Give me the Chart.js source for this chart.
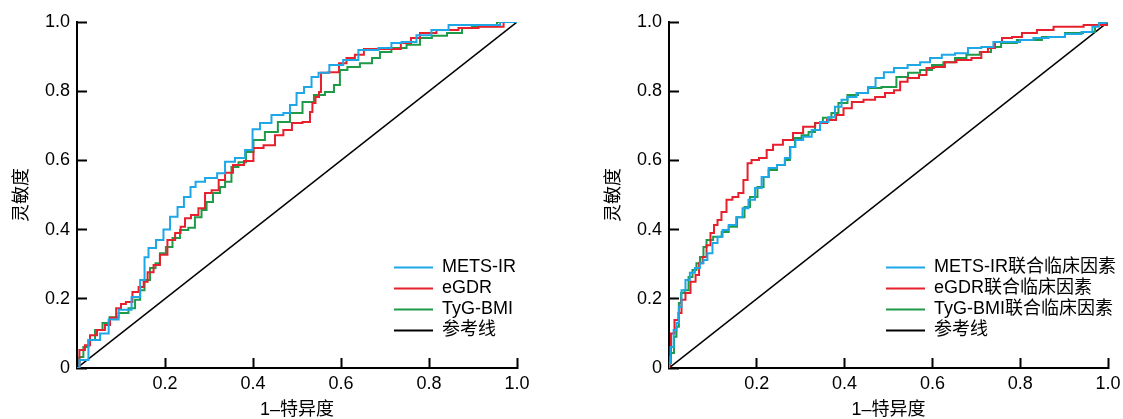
<!DOCTYPE html>
<html><head><meta charset="utf-8">
<script src="https://cdn.jsdelivr.net/npm/chart.js@4"></script>
<style>
html,body{margin:0;padding:0;background:#fff;width:1123px;height:419px;overflow:hidden}
canvas{position:absolute;top:0}
#c1{left:0}
#c2{left:592px}
</style></head>
<body>
<canvas id="c1" width="560" height="419"></canvas>
<canvas id="c2" width="531" height="419"></canvas>
<script>
// ---------- data ----------
const X_TICK_LABELS = ['', '0.2', '0.4', '0.6', '0.8', '1.0'];
const Y_TICK_LABELS = ['0', '0.2', '0.4', '0.6', '0.8', '1.0'];
const X_TITLE = '1–特异度';
const Y_TITLE = '灵敏度';
const LEFT_LABELS = ['METS-IR', 'eGDR', 'TyG-BMI', '参考线'];
const RIGHT_LABELS = ['METS-IR联合临床因素', 'eGDR联合临床因素', 'TyG-BMI联合临床因素', '参考线'];
const REF_X = [0, 1];
const REF_Y = [0, 1];

const L_METS_X = [0,0.011,0.041,0.064,0.08,0.109,0.139,0.148,0.159,0.166,0.193,0.2,0.223,0.234,0.252,0.264,0.275,0.307,0.33,0.343,0.375,0.389,0.409,0.423,0.461,0.477,0.491,0.507,0.525,0.541,0.557,0.59,0.62,0.659,0.711,0.718,0.757,0.786,0.825,0.864,0.923,1];
const L_METS_Y = [0,0.023,0.081,0.10,0.14,0.168,0.205,0.254,0.32,0.347,0.37,0.4,0.437,0.465,0.494,0.523,0.538,0.549,0.563,0.596,0.607,0.63,0.69,0.708,0.731,0.737,0.76,0.795,0.812,0.841,0.853,0.876,0.89,0.919,0.925,0.939,0.942,0.962,0.977,0.991,0.991,1];

const L_EGDR_X = [0,0.011,0.025,0.034,0.057,0.07,0.08,0.098,0.102,0.12,0.132,0.148,0.155,0.166,0.182,0.195,0.216,0.23,0.241,0.25,0.268,0.284,0.298,0.314,0.33,0.343,0.366,0.393,0.409,0.439,0.461,0.477,0.5,0.525,0.534,0.536,0.548,0.552,0.557,0.586,0.605,0.62,0.643,0.661,0.727,0.745,0.773,0.786,0.848,0.886,0.939,1];
const L_EGDR_Y = [0,0.052,0.066,0.095,0.11,0.124,0.145,0.173,0.185,0.191,0.22,0.234,0.249,0.277,0.298,0.327,0.37,0.39,0.408,0.433,0.442,0.462,0.506,0.514,0.543,0.564,0.587,0.598,0.636,0.644,0.673,0.688,0.708,0.711,0.74,0.766,0.783,0.798,0.853,0.855,0.881,0.896,0.905,0.922,0.922,0.939,0.954,0.968,0.977,0.983,0.986,1];

const L_TYG_X = [0,0.011,0.018,0.034,0.048,0.068,0.08,0.109,0.125,0.139,0.148,0.159,0.173,0.184,0.193,0.211,0.223,0.245,0.261,0.275,0.291,0.298,0.32,0.33,0.343,0.359,0.375,0.393,0.409,0.445,0.468,0.5,0.525,0.552,0.575,0.593,0.602,0.627,0.659,0.682,0.695,0.734,0.764,0.795,0.818,0.864,0.886,0.909,1];
const L_TYG_Y = [0,0.032,0.061,0.081,0.11,0.13,0.147,0.159,0.173,0.197,0.225,0.254,0.289,0.303,0.332,0.35,0.376,0.399,0.405,0.436,0.457,0.48,0.506,0.523,0.538,0.581,0.595,0.624,0.659,0.682,0.711,0.737,0.769,0.789,0.798,0.818,0.861,0.87,0.881,0.896,0.913,0.925,0.934,0.954,0.96,0.968,0.983,0.988,1];

const R_METS_X = [0,0,0.007,0.014,0.02,0.025,0.032,0.043,0.052,0.066,0.075,0.082,0.093,0.105,0.116,0.128,0.144,0.162,0.173,0.189,0.203,0.219,0.235,0.257,0.271,0.282,0.294,0.317,0.333,0.355,0.371,0.385,0.401,0.412,0.442,0.465,0.476,0.503,0.522,0.565,0.579,0.61,0.633,0.67,0.692,0.731,0.747,0.784,0.815,0.845,0.884,0.92,0.959,0.97,0.989,1];
const R_METS_Y = [0,0.014,0.061,0.11,0.13,0.176,0.225,0.254,0.275,0.289,0.303,0.312,0.332,0.361,0.379,0.399,0.413,0.436,0.462,0.486,0.52,0.552,0.578,0.587,0.607,0.639,0.659,0.668,0.688,0.711,0.725,0.755,0.775,0.783,0.795,0.812,0.838,0.855,0.867,0.876,0.884,0.896,0.905,0.91,0.925,0.928,0.942,0.942,0.948,0.954,0.957,0.965,0.971,0.986,0.997,1];

const R_EGDR_X = [0,0.002,0.007,0.018,0.025,0.032,0.043,0.055,0.066,0.071,0.082,0.089,0.1,0.105,0.116,0.123,0.139,0.15,0.166,0.173,0.185,0.191,0.219,0.226,0.248,0.271,0.294,0.317,0.349,0.371,0.39,0.405,0.428,0.458,0.481,0.503,0.522,0.531,0.556,0.583,0.59,0.617,0.64,0.67,0.708,0.715,0.738,0.747,0.77,0.793,0.815,0.861,0.891,0.998,1];
const R_EGDR_Y = [0,0.032,0.1,0.139,0.159,0.197,0.217,0.249,0.269,0.303,0.321,0.355,0.39,0.413,0.428,0.451,0.486,0.494,0.506,0.543,0.592,0.601,0.607,0.63,0.645,0.659,0.679,0.697,0.708,0.717,0.731,0.751,0.769,0.775,0.783,0.795,0.803,0.827,0.838,0.847,0.867,0.87,0.884,0.89,0.896,0.913,0.925,0.942,0.954,0.957,0.968,0.977,0.986,0.991,1];

const R_TYG_X = [0,0,0.009,0.014,0.02,0.025,0.03,0.041,0.048,0.059,0.066,0.075,0.082,0.089,0.112,0.128,0.144,0.166,0.178,0.191,0.212,0.219,0.235,0.257,0.271,0.28,0.294,0.31,0.326,0.339,0.362,0.378,0.394,0.419,0.442,0.465,0.503,0.533,0.556,0.588,0.61,0.64,0.663,0.692,0.724,0.743,0.77,0.815,0.884,0.92,0.966,0.975,1];
const R_TYG_Y = [0,0.014,0.043,0.09,0.119,0.188,0.217,0.225,0.263,0.283,0.303,0.321,0.35,0.37,0.379,0.393,0.408,0.436,0.465,0.494,0.523,0.552,0.572,0.587,0.601,0.639,0.665,0.673,0.682,0.708,0.723,0.737,0.766,0.789,0.795,0.809,0.812,0.841,0.853,0.861,0.876,0.884,0.896,0.905,0.913,0.928,0.939,0.948,0.957,0.968,0.971,0.991,1];

const COLORS = ['#1ea7e6', '#e6202c', '#1f9a48', '#000000'];

// ---------- chart setup ----------
const FONT = '"Liberation Sans", Arial, Helvetica, "Noto Sans CJK SC", sans-serif';
const FS = 18;
Chart.defaults.font.family = FONT;
Chart.defaults.font.size = FS;
Chart.defaults.color = '#000';

const legendPos = {
  id: 'legendPos',
  afterLayout(chart, args, opts) {
    const lg = chart.legend, ca = chart.chartArea;
    if (!lg) return;
    const w = lg.width;
    lg.left = ca.left + opts.dx;
    lg.right = lg.left + w;
    lg.bottom = ca.bottom - opts.dy;
  }
};

function pts(xs, ys) { return xs.map((x, j) => ({x: x, y: ys[j]})); }

function innerGrid() {
  return { display: true, drawOnChartArea: false, drawTicks: true, tickLength: -10, tickWidth: 2, tickColor: '#000' };
}

function makeChart(id, labels, series, padRight, legendDx) {
  const datasets = series.map((s, i) => ({
    label: labels[i],
    data: pts(s[0], s[1]),
    borderColor: COLORS[i],
    backgroundColor: COLORS[i],
    borderWidth: 2,
    pointRadius: 0,
    stepped: 'middle',
    fill: false,
    order: i
  }));
  datasets.push({
    label: labels[3],
    data: pts(REF_X, REF_Y),
    borderColor: COLORS[3],
    backgroundColor: COLORS[3],
    borderWidth: 1.5,
    pointRadius: 0,
    fill: false,
    order: 3
  });
  return new Chart(document.getElementById(id), {
    type: 'line',
    data: { datasets },
    plugins: [legendPos],
    options: {
      responsive: false,
      animation: false,
      events: [],
      layout: { padding: { left: 0, top: 22, right: padRight, bottom: 0 } },
      scales: {
        x: {
          type: 'linear', min: 0, max: 1,
          grid: innerGrid(),
          border: { display: true, color: '#000', width: 2 },
          ticks: { stepSize: 0.2, padding: 15, color: '#000', maxRotation: 0, autoSkip: false,
                   callback: (v, i) => X_TICK_LABELS[i] },
          title: { display: true, text: X_TITLE, color: '#000', font: { size: FS, lineHeight: 1 }, padding: { top: 0, bottom: 0 } },
          afterFit: s => { s.height = 51; s.paddingLeft = 0; s.paddingRight = 0; s.paddingTop = 0; s.paddingBottom = 0; }
        },
        y: {
          type: 'linear', min: 0, max: 1,
          grid: innerGrid(),
          border: { display: true, color: '#000', width: 2 },
          ticks: { stepSize: 0.2, padding: 17, color: '#000', autoSkip: false,
                   callback: (v, i) => Y_TICK_LABELS[i] },
          title: { display: true, text: Y_TITLE, color: '#000', font: { size: FS, lineHeight: 1 }, padding: { top: 13, bottom: 0 } },
          afterFit: s => { s.width = 77; s.paddingLeft = 0; s.paddingRight = 0; s.paddingTop = 0; s.paddingBottom = 0; }
        }
      },
      plugins: {
        legendPos: { dx: legendDx, dy: 25.5 },
        tooltip: { enabled: false },
        legend: {
          position: 'chartArea',
          align: 'end',
          labels: {
            boxWidth: 39, boxHeight: 2, padding: 3, color: '#000',
            font: { size: FS },
            generateLabels: chart => chart.data.datasets.map((d, i) => ({
              text: d.label, fillStyle: d.borderColor, strokeStyle: d.borderColor,
              lineWidth: 0, hidden: false, datasetIndex: i, fontColor: '#000'
            }))
          }
        }
      }
    }
  });
}

makeChart('c1', LEFT_LABELS, [[L_METS_X, L_METS_Y], [L_EGDR_X, L_EGDR_Y], [L_TYG_X, L_TYG_Y]], 43, 314);
makeChart('c2', RIGHT_LABELS, [[R_METS_X, R_METS_Y], [R_EGDR_X, R_EGDR_Y], [R_TYG_X, R_TYG_Y]], 15, 214);
</script>
</body></html>
